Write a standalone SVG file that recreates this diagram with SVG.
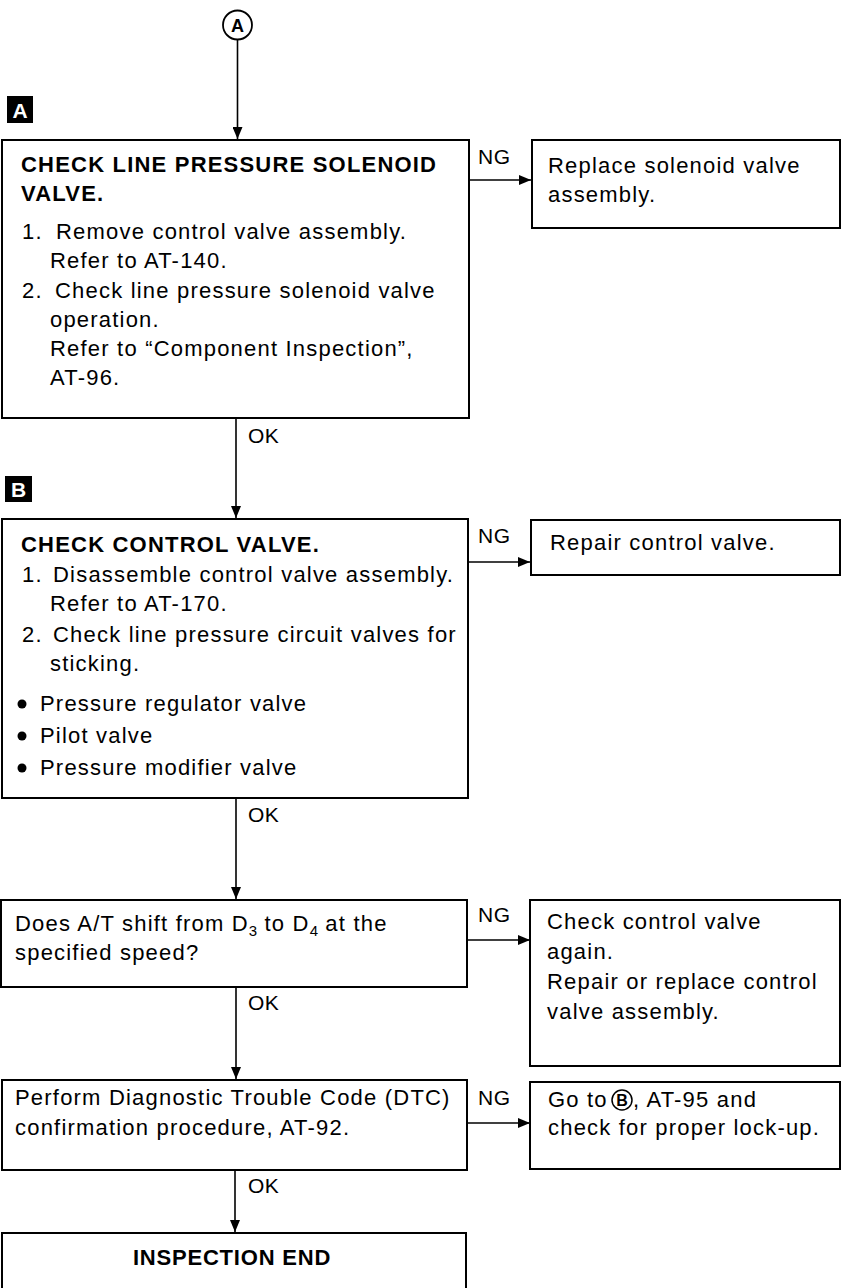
<svg xmlns="http://www.w3.org/2000/svg" width="843" height="1288" viewBox="0 0 843 1288">
  <defs>
    <marker id="arr" viewBox="0 0 12 10" refX="12" refY="5" markerWidth="12" markerHeight="10" markerUnits="userSpaceOnUse" orient="auto">
      <path d="M0,0 L12,5 L0,10 Z" fill="#000"/>
    </marker>
    <style>
      .box { fill: #fff; stroke: #000; stroke-width: 2; }
      .conn { fill: none; stroke: #000; stroke-width: 1.6; }
      text { font-family: "Liberation Sans", Arial, sans-serif; font-size: 22px; fill: #000; letter-spacing: 1.2px; }
      .b { font-weight: bold; letter-spacing: 1.2px; }
      .lbl { font-size: 21px; letter-spacing: 0.5px; }
      .sub { font-size: 15px; letter-spacing: 0; }
      .badge { fill: #000; }
      .badgeT { fill: #fff; font-weight: bold; font-size: 21px; letter-spacing: 0; text-anchor: middle; }
      .ring { fill: #fff; stroke: #000; stroke-width: 1.8; }
    </style>
  </defs>

  <!-- connector start marker -->
  <g id="start-a">
    <circle class="ring" cx="237.5" cy="25" r="14.5"/>
    <text x="237.5" y="32" class="b" style="font-size:18px;letter-spacing:0" text-anchor="middle">A</text>
  </g>

  <!-- step badges -->
  <g id="badge-a">
    <rect class="badge" x="7" y="96" width="26" height="27"/>
    <text class="badgeT" x="20" y="117.5">A</text>
  </g>
  <g id="badge-b">
    <rect class="badge" x="5" y="476" width="27" height="26"/>
    <text class="badgeT" x="18.5" y="497">B</text>
  </g>

  <!-- connectors -->
  <g id="connectors">
    <line class="conn" x1="237.5" y1="40" x2="237.5" y2="139" marker-end="url(#arr)"/>
    <line class="conn" x1="469" y1="180" x2="531" y2="180" marker-end="url(#arr)"/>
    <line class="conn" x1="236" y1="418" x2="236" y2="518" marker-end="url(#arr)"/>
    <line class="conn" x1="468" y1="562" x2="530" y2="562" marker-end="url(#arr)"/>
    <line class="conn" x1="236" y1="798" x2="236" y2="899" marker-end="url(#arr)"/>
    <line class="conn" x1="467" y1="940" x2="530" y2="940" marker-end="url(#arr)"/>
    <line class="conn" x1="236" y1="987" x2="236" y2="1079" marker-end="url(#arr)"/>
    <line class="conn" x1="467" y1="1123" x2="530" y2="1123" marker-end="url(#arr)"/>
    <line class="conn" x1="235" y1="1170" x2="235" y2="1232" marker-end="url(#arr)"/>
    <text class="lbl" x="478" y="164">NG</text>
    <text class="lbl" x="248" y="443">OK</text>
    <text class="lbl" x="478" y="543">NG</text>
    <text class="lbl" x="248" y="822">OK</text>
    <text class="lbl" x="478" y="922">NG</text>
    <text class="lbl" x="248" y="1010">OK</text>
    <text class="lbl" x="478" y="1105">NG</text>
    <text class="lbl" x="248" y="1193">OK</text>
  </g>

  <!-- step A: line pressure solenoid -->
  <g id="check-solenoid">
    <rect class="box" x="2" y="140" width="467" height="278"/>
    <text class="b" x="21" y="172">CHECK LINE PRESSURE SOLENOID</text>
    <text class="b" x="21" y="201">VALVE.</text>
    <text x="22" y="239">1.</text>
    <text x="56" y="239">Remove control valve assembly.</text>
    <text x="50" y="268">Refer to AT-140.</text>
    <text x="22" y="298">2.</text>
    <text x="55" y="298">Check line pressure solenoid valve</text>
    <text x="50" y="327">operation.</text>
    <text x="50" y="356">Refer to “Component Inspection”,</text>
    <text x="50" y="385">AT-96.</text>
  </g>
  <g id="replace-solenoid">
    <rect class="box" x="532" y="140" width="308" height="88"/>
    <text x="548" y="173">Replace solenoid valve</text>
    <text x="548" y="202">assembly.</text>
  </g>

  <!-- step B: control valve -->
  <g id="check-control-valve">
    <rect class="box" x="2" y="519" width="466" height="279"/>
    <text class="b" x="21" y="552">CHECK CONTROL VALVE.</text>
    <text x="22" y="582">1.</text>
    <text x="53" y="582">Disassemble control valve assembly.</text>
    <text x="50" y="611">Refer to AT-170.</text>
    <text x="22" y="642">2.</text>
    <text x="53" y="642">Check line pressure circuit valves for</text>
    <text x="50" y="671">sticking.</text>
    <circle cx="22" cy="704" r="4.5"/>
    <text x="40" y="711">Pressure regulator valve</text>
    <circle cx="22" cy="736" r="4.5"/>
    <text x="40" y="743">Pilot valve</text>
    <circle cx="22" cy="768" r="4.5"/>
    <text x="40" y="775">Pressure modifier valve</text>
  </g>
  <g id="repair-control-valve">
    <rect class="box" x="531" y="520" width="309" height="55"/>
    <text x="550" y="550">Repair control valve.</text>
  </g>

  <!-- shift check -->
  <g id="check-shift">
    <rect class="box" x="1" y="900" width="466" height="87"/>
    <text x="15" y="931">Does A/T shift from D<tspan class="sub" dy="5">3</tspan><tspan dy="-5"> to D</tspan><tspan class="sub" dy="5">4</tspan><tspan dy="-5"> at the</tspan></text>
    <text x="15" y="960">specified speed?</text>
  </g>
  <g id="recheck-control-valve">
    <rect class="box" x="530" y="900" width="310" height="166"/>
    <text x="547" y="929">Check control valve</text>
    <text x="547" y="959">again.</text>
    <text x="547" y="989">Repair or replace control</text>
    <text x="547" y="1019">valve assembly.</text>
  </g>

  <!-- DTC confirmation -->
  <g id="dtc-confirm">
    <rect class="box" x="2" y="1080" width="465" height="90"/>
    <text x="15" y="1105">Perform Diagnostic Trouble Code (DTC)</text>
    <text x="15" y="1135">confirmation procedure, AT-92.</text>
  </g>
  <g id="lock-up">
    <rect class="box" x="530" y="1082" width="310" height="87"/>
    <text x="548" y="1107">Go to</text>
    <circle class="ring" cx="622" cy="1100" r="10" style="stroke-width:1.5"/>
    <text x="622" y="1106" class="b" style="font-size:16px;letter-spacing:0" text-anchor="middle">B</text>
    <text x="633" y="1107">, AT-95 and</text>
    <text x="548" y="1135">check for proper lock-up.</text>
  </g>

  <!-- end -->
  <g id="inspection-end">
    <path class="box" d="M2,1292 L2,1233 L466,1233 L466,1292"/>
    <text class="b" x="232" y="1265" text-anchor="middle" style="letter-spacing:0.8px">INSPECTION END</text>
  </g>
</svg>
